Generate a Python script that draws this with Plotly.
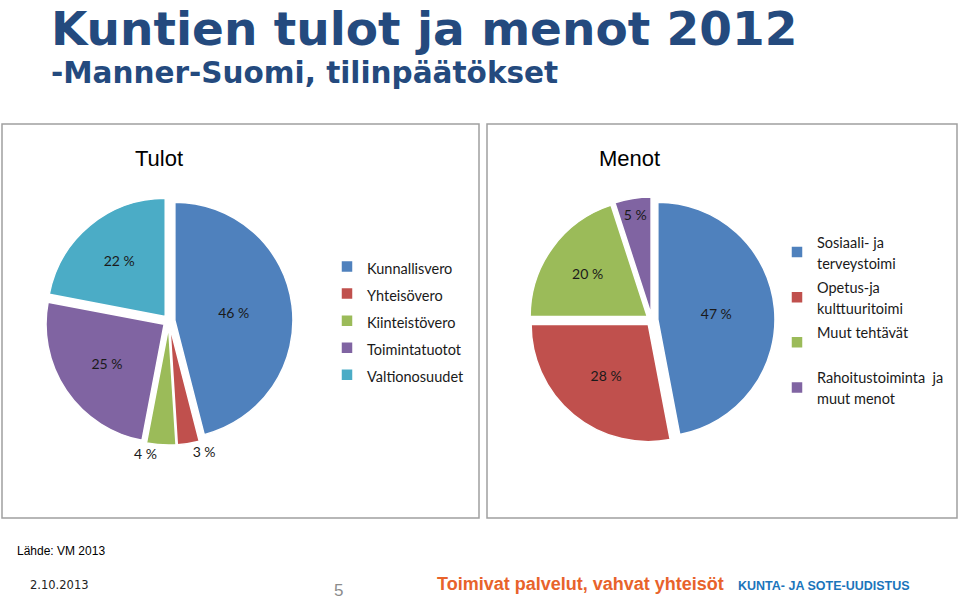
import plotly.graph_objects as go

W, H = 959, 599

# ---- data ----
title_text = "Kuntien tulot ja menot 2012"
subtitle_text = "-Manner-Suomi, tilinpäätökset"

tulot_labels = ["Kunnallisvero", "Yhteisövero", "Kiinteistövero", "Toimintatuotot", "Valtionosuudet"]
tulot_values = [46, 3, 4, 25, 22]
tulot_textpos = ["inside", "outside", "outside", "inside", "inside"]

menot_labels = ["Sosiaali- ja<br>terveystoimi", "Opetus-ja<br>kulttuuritoimi", "Muut tehtävät<br> ",
                "Rahoitustoiminta  ja<br>muut menot"]
menot_values = [47, 28, 20, 5]

tulot_colors = ["#4F81BD", "#C0504D", "#9BBB59", "#8064A2", "#4BACC6"]
menot_colors = ["#4F81BD", "#C0504D", "#9BBB59", "#8064A2"]


def px(x):
    return x / W


def py(y):
    return 1 - y / H


def span(label, size):
    return "<br>".join(f"<span style='font-size:{size}px'>{part}</span>" for part in label.split("<br>"))


TXT = "#1a1a1a"
PIEFONT = "Lato, Open Sans, sans-serif"
PULL = 0.05

fig = go.Figure()

# Tulot pie: centre (169,321)
fig.add_trace(go.Pie(
    labels=[span(l, 14.5) for l in tulot_labels],
    values=tulot_values,
    sort=False, direction="clockwise", rotation=0,
    marker=dict(colors=tulot_colors, line=dict(color="white", width=1.5)),
    pull=[PULL] * len(tulot_values),
    texttemplate="%{value} %",
    textposition=tulot_textpos,
    insidetextorientation="horizontal",
    textfont=dict(family=PIEFONT, size=14, color=TXT),
    domain=dict(x=[px(45), px(293)], y=[py(445), py(197)]),
    legend="legend",
    hoverinfo="label+percent",
))

# Menot pie: centre (652,320)
fig.add_trace(go.Pie(
    labels=[span(l, 14.5) for l in menot_labels],
    values=menot_values,
    sort=False, direction="clockwise", rotation=0,
    marker=dict(colors=menot_colors, line=dict(color="white", width=1.5)),
    pull=[PULL] * len(menot_values),
    texttemplate="%{value} %",
    textposition="inside",
    insidetextorientation="horizontal",
    textfont=dict(family=PIEFONT, size=14, color=TXT),
    domain=dict(x=[px(529), px(775)], y=[py(443), py(197)]),
    legend="legend2",
    hoverinfo="label+percent",
))

shapes = [
    dict(type="rect", xref="paper", yref="paper", x0=px(2), x1=px(479), y0=py(518), y1=py(124),
         line=dict(color="#a0a0a0", width=1.5)),
    dict(type="rect", xref="paper", yref="paper", x0=px(487), x1=px(957), y0=py(518), y1=py(124),
         line=dict(color="#a0a0a0", width=1.5)),
]


def ann(text, x, y, size, color, family="Liberation Sans, Arial, sans-serif", xanchor="left", bold=False,
        yanchor="middle"):
    return dict(text=f"<b>{text}</b>" if bold else text, x=px(x), y=py(y), xref="paper", yref="paper",
                xanchor=xanchor, yanchor=yanchor, showarrow=False, borderpad=0, align="left",
                font=dict(size=size, color=color, family=family))


annotations = [
    ann(f"<span style='font-size:47px'>{title_text}</span><br>{subtitle_text}", 50, 0, 29.5, "#244A7E",
        family="DejaVu Sans, sans-serif", bold=True, yanchor="top"),
    ann("Tulot", 159, 158, 22, "#000000", xanchor="center"),
    ann("Menot", 629, 158, 22, "#000000", xanchor="center"),
    ann("Lähde: VM 2013", 16, 551, 12, "#000000"),
    ann("2.10.2013", 29, 585, 11.5, "#222222", family="DejaVu Sans, sans-serif"),
    ann("5", 338, 590, 17, "#8c8c8c", xanchor="center"),
    ann("Toimivat palvelut, vahvat yhteisöt", 436, 584, 18, "#E8632B", bold=True),
    ann("KUNTA- JA SOTE-UUDISTUS", 737, 586, 12.5, "#1B75BB", bold=True),
]

fig.update_layout(
    width=W, height=H,
    margin=dict(l=0, r=0, t=0, b=0),
    paper_bgcolor="white", plot_bgcolor="white",
    shapes=shapes, annotations=annotations,
    showlegend=True,
    legend=dict(x=px(327), y=py(321), xanchor="left", yanchor="middle",
                font=dict(family=PIEFONT, size=18.5, color=TXT), bgcolor="rgba(0,0,0,0)"),
    legend2=dict(x=px(777), y=py(320), xanchor="left", yanchor="middle",
                 font=dict(family=PIEFONT, size=16.2, color=TXT), bgcolor="rgba(0,0,0,0)"),
)

fig.write_html("out.html")
